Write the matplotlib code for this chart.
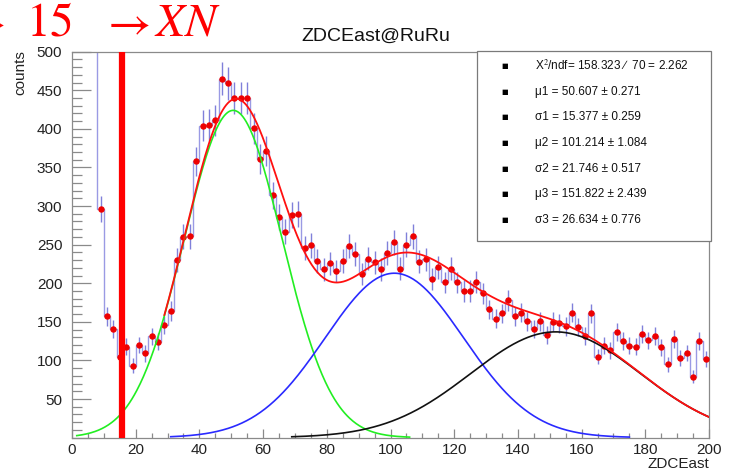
import numpy as np
import matplotlib
matplotlib.use('Agg')
import matplotlib.pyplot as plt
from matplotlib.ticker import MultipleLocator, FuncFormatter
from matplotlib.patches import Rectangle

plt.rcParams['font.family'] = ['Liberation Sans', 'DejaVu Sans']
plt.rcParams['mathtext.fontset'] = 'stix'

# ZDCEast spectrum, 2-unit bins (bin centres 7..199); first bin is off scale
bin_centers = np.arange(7, 200, 2)
counts = [
    1000, 296, 157, 141, 105, 118, 93, 120, 109, 131,
    124, 146, 164, 230, 260, 261, 358, 404, 405, 411,
    465, 459, 440, 440, 440, 401, 361, 371, 314, 286,
    267, 288, 290, 246, 249, 229, 218, 226, 216, 229,
    248, 238, 212, 232, 227, 218, 239, 253, 219, 250,
    261, 228, 231, 206, 221, 201, 219, 201, 190, 190,
    202, 187, 166, 154, 161, 178, 157, 162, 151, 141,
    151, 133, 150, 148, 144, 162, 143, 132, 161, 105,
    119, 113, 137, 125, 119, 118, 134, 126, 132, 117,
    95, 128, 103, 110, 79, 125, 102,
]

# three-gaussian fit
amps = [424.0, 213.0, 137.0]
mus = [50.607, 101.214, 151.822]
sigmas = [15.377, 21.746, 26.634]
mu_err = [0.271, 1.084, 2.439]
sigma_err = [0.259, 0.517, 0.776]
chi2, ndf = 158.323, 70
comp_ranges = [(1.5, 106), (31, 175), (69, 200)]
comp_colors = ['#22ee22', '#2a2aff', '#111111']
total_range = (29, 200)
cut_x = 15.7


def gaus(x, a, m, s):
    return a * np.exp(-0.5 * ((x - m) / s) ** 2)


fig = plt.figure(figsize=(7.31, 4.70), dpi=100)
W, H = 731, 470
ax = fig.add_axes([72 / W, (H - 437.6) / H, 637 / W, 385.9 / H])

counts = np.array(counts, dtype=float)
edges = np.append(bin_centers - 1, bin_centers[-1] + 1)
hist_color = '#9a9ae4'
ax.stairs(counts, edges, baseline=None, color=hist_color, lw=1.0, zorder=2)
ax.errorbar(bin_centers, counts, yerr=np.sqrt(counts), fmt='none',
            ecolor='#8080da', elinewidth=1.0, zorder=2)
ax.plot(bin_centers, counts, 'o', color='#ee0000', ms=3.6, mec='#ee0000', zorder=3)

for a, m, s, (x0, x1), c in zip(amps, mus, sigmas, comp_ranges, comp_colors):
    xs = np.linspace(x0, x1, 400)
    ax.plot(xs, gaus(xs, a, m, s), color=c, lw=1.2, zorder=4)

xt = np.linspace(total_range[0], total_range[1], 600)
total = sum(gaus(xt, a, m, s) for a, m, s in zip(amps, mus, sigmas))
ax.plot(xt, total, color='#ff1010', lw=1.3, zorder=5)

ax.plot([cut_x, cut_x], [0, 500], color='#ff0000', lw=4.5, zorder=6, solid_capstyle='butt')

ax.set_xlim(0, 200)
ax.set_ylim(0, 500)

frame = '#8a8a8a'
for sp in ax.spines.values():
    sp.set_color(frame)
    sp.set_linewidth(0.9)

ax.xaxis.set_major_locator(MultipleLocator(20))
ax.xaxis.set_minor_locator(MultipleLocator(5))
ax.yaxis.set_major_locator(MultipleLocator(50))
ax.yaxis.set_minor_locator(MultipleLocator(10))
ax.yaxis.set_major_formatter(FuncFormatter(lambda v, p: '' if v == 0 else f'{v:.0f}'))
ax.tick_params(axis='both', which='both', direction='in', color=frame, labelsize=11,
               labelcolor='#222222', top=False, right=False)
ax.tick_params(axis='y', which='major', length=14, width=0.9, pad=7)
ax.tick_params(axis='y', which='minor', length=7, width=0.9)
ax.tick_params(axis='x', which='major', length=6.5, width=0.9, pad=4)
ax.tick_params(axis='x', which='minor', length=3.5, width=0.9)

fig.text(709 / W, 1 - 464 / H, 'ZDCEast', ha='right', va='center', fontsize=11, color='#222222')
fig.text(20 / W, 1 - 50 / H, 'counts', ha='center', va='top', rotation=90,
         fontsize=11, color='#222222')
fig.text(376 / W, 1 - 36 / H, 'ZDCEast@RuRu', ha='center', va='center', fontsize=14, color='#111111')

# fit-result box
box_l, box_r, box_t, box_b = 477, 710.5, 50.7, 241
fig.patches.append(Rectangle((box_l / W, 1 - box_b / H), (box_r - box_l) / W,
                             (box_b - box_t) / H, transform=fig.transFigure,
                             facecolor='white', edgecolor='#7a7a7a', lw=0.9, zorder=10))
rows = [f'X$^2$/ndf= {chi2:.3f} ∕  {ndf} = {chi2 / ndf:.3f}']
for i in range(3):
    rows.append(f'μ{i + 1} = {mus[i]:.3f} ± {mu_err[i]:.3f}')
    rows.append(f'σ{i + 1} = {sigmas[i]:.3f} ± {sigma_err[i]:.3f}')
row_y = np.linspace(66, 220, len(rows))
for y, txt in zip(row_y, rows):
    fig.text(505 / W, 1 - y / H, '■', ha='center', va='center', fontsize=5,
             color='black', family='DejaVu Sans', zorder=11)
    fig.text(535 / W, 1 - y / H, txt, ha='left', va='center', fontsize=8.5,
             color='#111111', zorder=11)

# red annotation along the top-left corner
red = '#ff0000'
base = 1 - 35 / H
fig.text(5 / W, base, r'$\rightarrow$', ha='right', va='baseline', fontsize=34, color=red)
fig.text(26 / W, base, r'$15$', ha='left', va='baseline', fontsize=34, color=red)
fig.text(101 / W, base, r'$\rightarrow$', ha='left', va='baseline', fontsize=34, color=red)
fig.text(154 / W, base, r'$XN$', ha='left', va='baseline', fontsize=34, color=red)

fig.savefig('out.png', dpi=100)
